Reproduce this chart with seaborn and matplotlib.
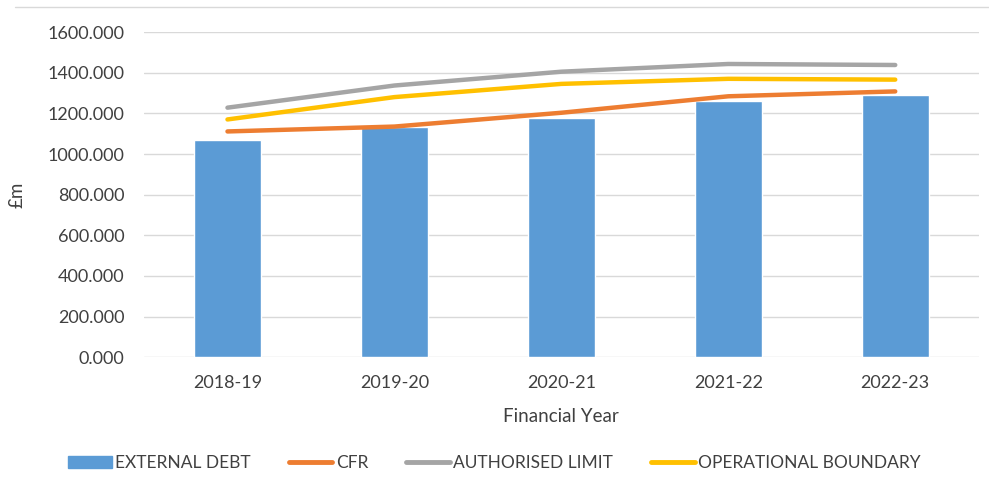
import pandas as pd
import seaborn as sns
import matplotlib.pyplot as plt
from matplotlib.lines import Line2D
from matplotlib.patches import Patch

# dados (£m)
anos = ['2018-19', '2019-20', '2020-21', '2021-22', '2022-23']
external_debt = [1068, 1133, 1177, 1260, 1290]
cfr = [1111, 1135, 1203, 1284, 1308]
authorised_limit = [1228, 1337, 1405, 1443, 1438]
operational_boundary = [1170, 1280, 1345, 1370, 1366]

cores = {'EXTERNAL DEBT': '#5B9BD5', 'CFR': '#ED7D31',
         'AUTHORISED LIMIT': '#A5A5A5', 'OPERATIONAL BOUNDARY': '#FFC000'}

df_barras = pd.DataFrame({'Ano': anos, 'Valor': external_debt})
df_linhas = pd.DataFrame({'Ano': anos, 'CFR': cfr,
                          'AUTHORISED LIMIT': authorised_limit,
                          'OPERATIONAL BOUNDARY': operational_boundary})
df_linhas = df_linhas.melt(id_vars='Ano', var_name='Serie', value_name='Valor')

sns.set_style('white')
plt.rcParams['font.family'] = ['Lato', 'DejaVu Sans']

fig = plt.figure(figsize=(9.89, 4.86), dpi=100)
ax = fig.add_axes([0.1456, 0.265, 0.844, 0.669])

sns.barplot(data=df_barras, x='Ano', y='Valor', color=cores['EXTERNAL DEBT'],
            width=0.4, saturation=1, ax=ax, zorder=2)
sns.lineplot(data=df_linhas, x='Ano', y='Valor', hue='Serie',
             palette=cores, linewidth=3.2, ax=ax, legend=False, zorder=3,
             solid_capstyle='round')

ax.set_ylim(0, 1600)
ax.set_yticks(range(0, 1601, 200))
ax.set_yticklabels([f'{v:.3f}' for v in range(0, 1601, 200)])
ax.set_xlim(-0.5, 4.5)
ax.yaxis.grid(True, color='#D9D9D9', linewidth=1, zorder=0)
ax.set_axisbelow(True)
for s in ax.spines.values():
    s.set_visible(False)
ax.tick_params(axis='y', length=0, labelsize=13, labelcolor='#404040', pad=14)
ax.tick_params(axis='x', length=0, labelsize=13, labelcolor='#404040', pad=13)
ax.set_xlabel('Financial Year', fontsize=13.5, color='#404040', labelpad=12)
ax.set_ylabel('£m', fontsize=13.5, color='#404040', labelpad=16)

# borda superior do gráfico
fig.add_artist(Line2D([0.015, 1.0], [0.986, 0.986], color='#D9D9D9', linewidth=1))

handles = [Patch(color=cores['EXTERNAL DEBT'])] + \
          [Line2D([], [], color=cores[k], linewidth=3.5) for k in ['CFR', 'AUTHORISED LIMIT', 'OPERATIONAL BOUNDARY']]
fig.legend(handles, list(cores.keys()), loc='center', bbox_to_anchor=(0.5, 0.047),
           ncol=4, frameon=False, fontsize=12.5, handlelength=2.5, handleheight=0.75,
           columnspacing=2.2, handletextpad=0.2, labelcolor='#404040')

plt.savefig('out.png', dpi=100)
